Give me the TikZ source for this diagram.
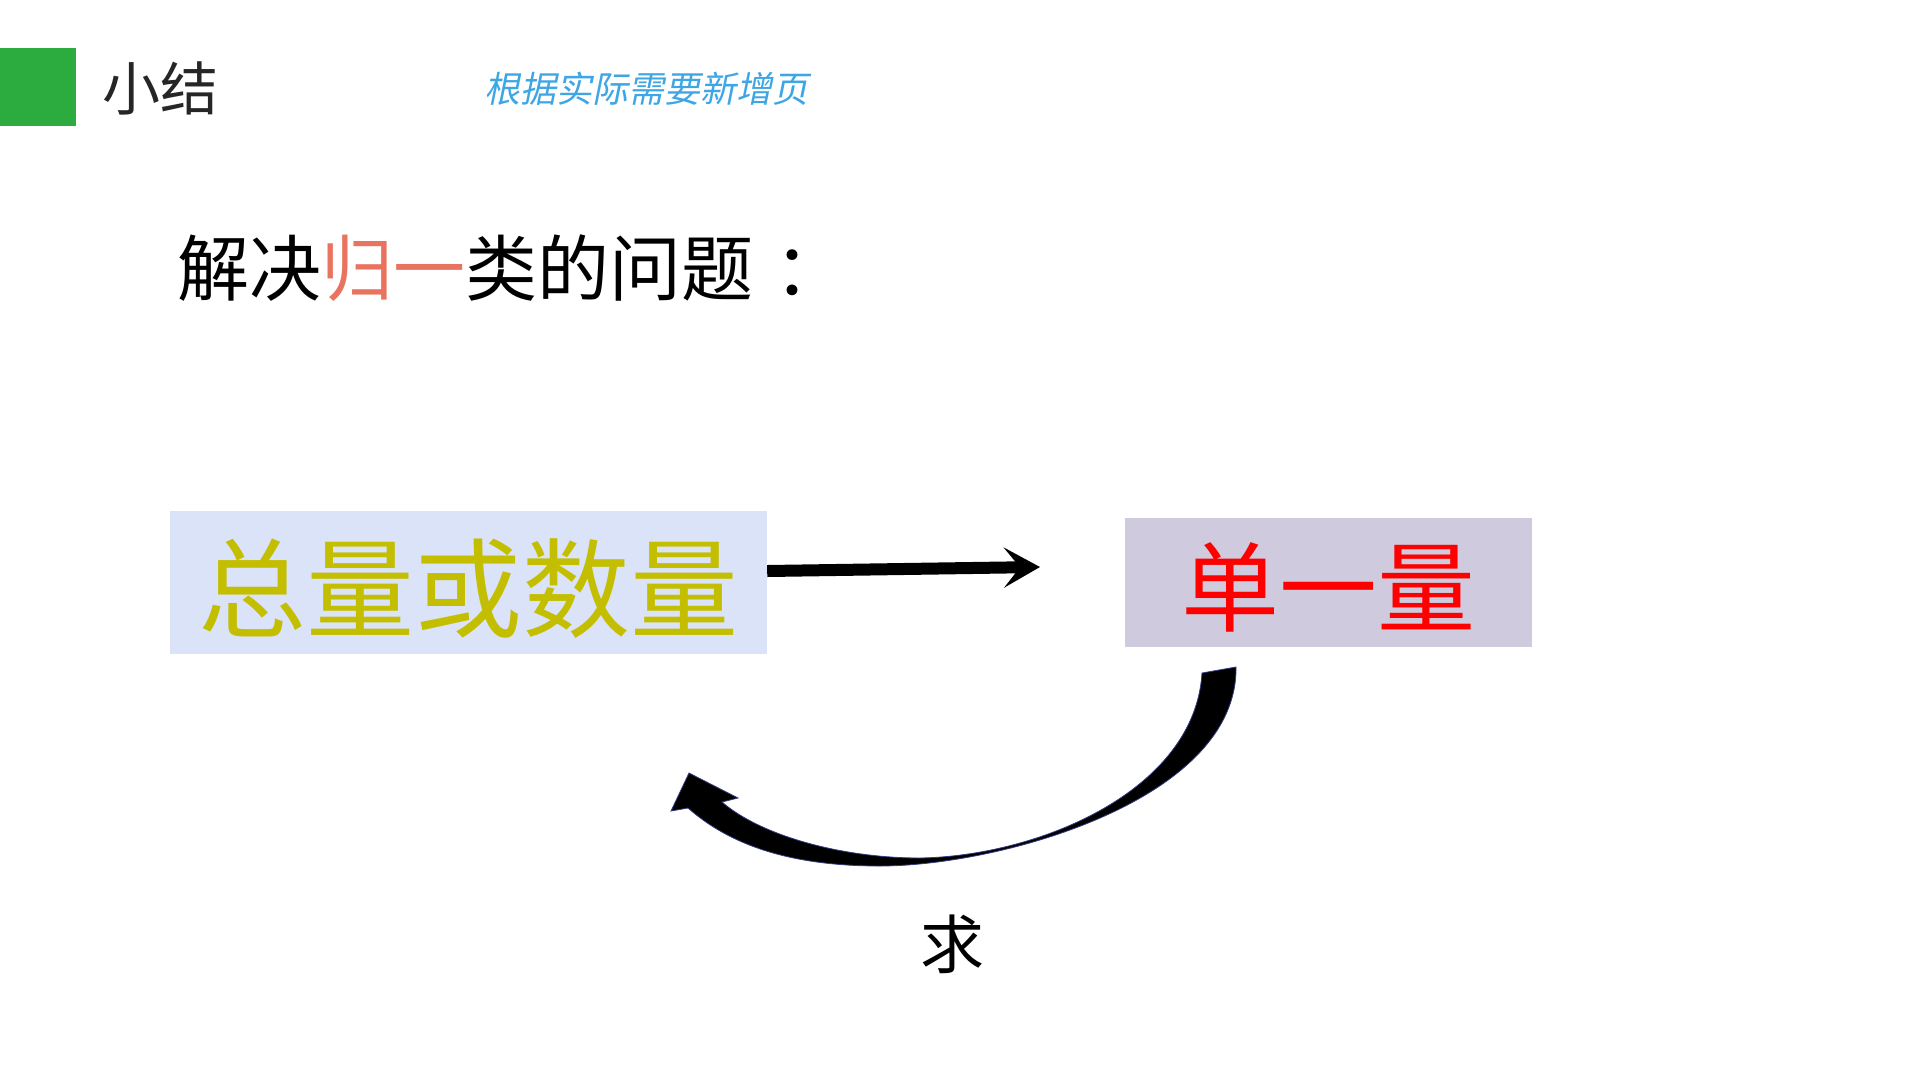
\documentclass[tikz,border=0pt]{standalone}
\usepackage{fontspec}
\setmainfont{Noto Sans CJK SC}
\newfontfamily\cjkslant[FakeSlant=0.2]{Noto Sans CJK SC}
\usetikzlibrary{arrows.meta}
\definecolor{hdrgreen}{RGB}{44,171,63}
\definecolor{hdrtext}{RGB}{38,38,38}
\definecolor{noteblue}{RGB}{62,166,228}
\definecolor{salmon}{RGB}{233,115,95}
\definecolor{boxone}{RGB}{218,227,248}
\definecolor{olivetext}{RGB}{196,190,0}
\definecolor{boxtwo}{RGB}{207,202,221}
\definecolor{pptred}{RGB}{255,0,0}
\definecolor{edgeblue}{RGB}{50,60,130}
\begin{document}
\begin{tikzpicture}[x=1pt,y=-1pt,
  qbox/.style={inner sep=0pt, draw=none, text depth=0pt},
  bigarrow/.style={line width=12pt, -{Stealth[length=36pt,width=40pt,inset=16pt]}},
  curvearrow/.style={fill=black, draw=edgeblue, line width=0.8pt, line join=miter}]
\useasboundingbox (0,0) rectangle (1920,1080);
\fill[white] (0,0) rectangle (1920,1080);
% header
\fill[hdrgreen] (0,48) rectangle (76,126);
\node[anchor=west, inner sep=0pt, text=hdrtext, font=\fontsize{58}{62}\selectfont] (title) at (102,88) {小结};
\node[anchor=west, inner sep=0pt, text=noteblue, font=\cjkslant\fontsize{36}{40}\selectfont] (note) at (484,89) {根据实际需要新增页};
% question
\node[anchor=west, inner sep=0pt, font=\fontsize{72}{76}\selectfont] (question) at (177,268) {解决\textcolor{salmon}{归一}类的问题\hspace{21pt}：};
% boxes
\node[qbox, text height=94pt, fill=boxone, minimum width=597pt, minimum height=143pt, text=olivetext, font=\fontsize{108}{112}\selectfont] (total) at (468.5,582.5) {总量或数量};
\node[qbox, text height=83pt, fill=boxtwo, minimum width=407pt, minimum height=129pt, text=pptred, font=\fontsize{98}{102}\selectfont] (unit) at (1328.5,582.5) {单一量};
% straight arrow
\coordinate (tipend) at (1040,567);
\draw[bigarrow] ([yshift=11.5pt]total.east) -- (tipend);
% curved arrow
\filldraw[curvearrow]
  (1236,667) .. controls (1238,800) and (1000,866) .. (880,866)
  .. controls (790,866) and (730,845) .. (688,808)
  -- (671,811) -- (689,773) -- (738,798) -- (722,802)
  .. controls (760,835) and (840,858) .. (920,858)
  .. controls (1040,856) and (1195,790) .. (1202,673)
  -- cycle;
% label
\node[inner sep=0pt, font=\fontsize{64}{68}\selectfont] (seek) at (952,944) {求};
\end{tikzpicture}
\end{document}
